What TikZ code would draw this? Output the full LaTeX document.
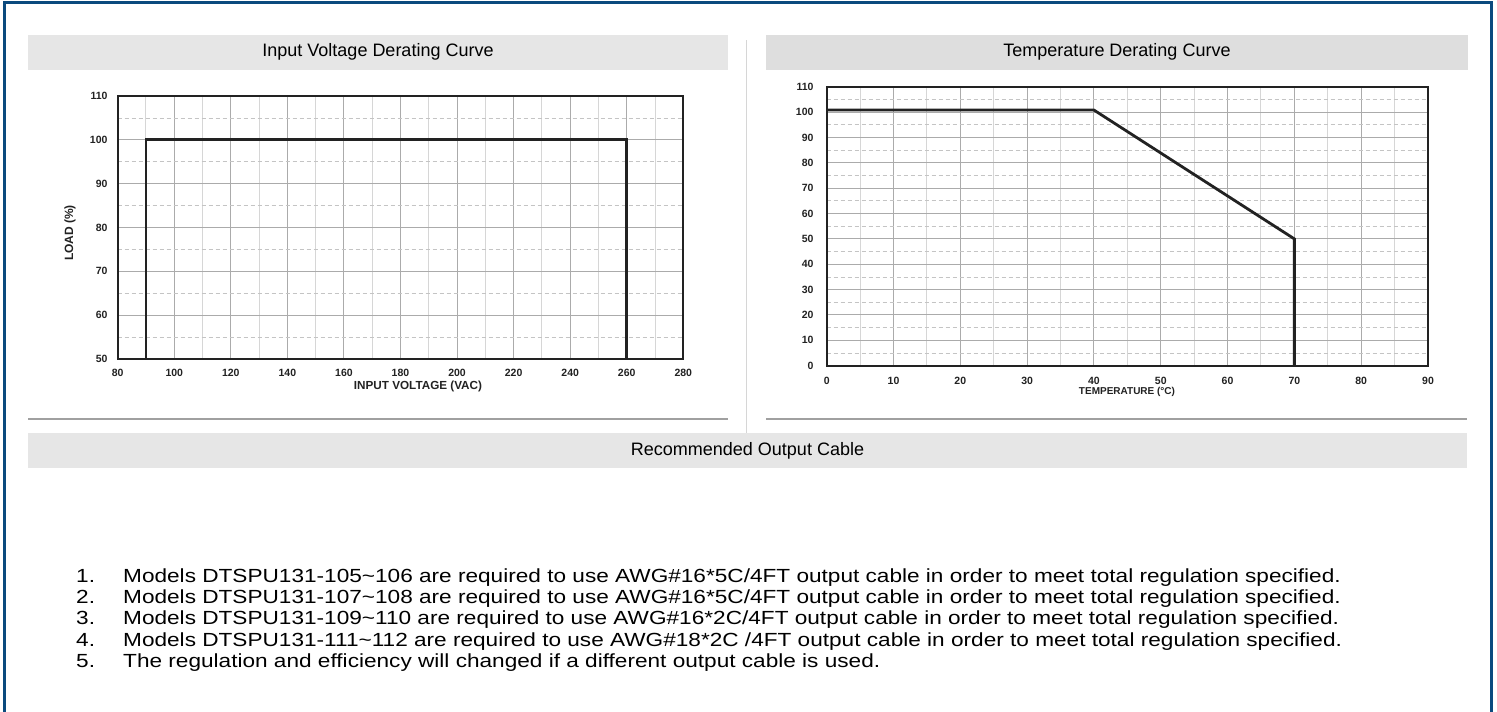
\documentclass[tikz,border=0pt]{standalone}
\usepackage{fontspec}
\setmainfont{Liberation Sans}
\newfontfamily\listfont[FakeStretch=1.19]{Liberation Sans}
\definecolor{frameblue}{HTML}{0B4A7E}
\definecolor{barA}{HTML}{E6E6E6}
\definecolor{barB}{HTML}{DEDEDE}
\definecolor{majgrid}{HTML}{ABABAB}
\definecolor{mingrid}{HTML}{D6D6D6}
\definecolor{dashgrid}{HTML}{C4C4C4}
\definecolor{curve}{HTML}{222222}
\definecolor{sepline}{HTML}{A0A0A0}
\tikzset{
  hdr/.style={fill=#1, draw=none, inner sep=0pt, font=\fontsize{18}{20}\selectfont, text=black},
  majline/.style={draw=majgrid, line width=1pt},
  minline/.style={draw=mingrid, line width=1pt},
  dashline/.style={draw=dashgrid, line width=0.8pt, dash pattern=on 4pt off 3pt},
  plotframe/.style={draw=curve, line width=2pt},
  curveline/.style={draw=curve, line width=2.8pt, line join=miter},
  ticklab/.style={font=\fontsize{10.5}{12}\bfseries\selectfont, inner sep=0pt, text=curve},
  axtitle/.style={font=\fontsize{10}{12}\bfseries\selectfont, inner sep=0pt, text=curve},
  listtxt/.style={font=\listfont\fontsize{19}{22}\selectfont, inner sep=0pt, anchor=base west, text=black},
}
\begin{document}
\begin{tikzpicture}[x=1pt,y=-1pt]
\useasboundingbox (0,0) rectangle (1497,712);
\fill[white] (0,0) rectangle (1497,712);
% outer frame
\draw[frameblue, line width=3pt] (4.5,712) -- (4.5,2.5) -- (1491.5,2.5) -- (1491.5,712);
% header bars
\node[hdr=barA, minimum width=700pt, minimum height=35pt] (h1) at (378,52) {Input Voltage Derating Curve};
\node[hdr=barB, minimum width=702pt, minimum height=35pt] (h2) at (1117,52) {Temperature Derating Curve};
\node[hdr=barA, minimum width=1439pt, minimum height=35pt] (h3) at (747.5,450.5) {Recommended Output Cable};
% separators
\coordinate (s1a) at (28,419); \coordinate (s1b) at (728,419);
\coordinate (s2a) at (766,419); \coordinate (s2b) at (1467,419);
\coordinate (va) at (746,40); \coordinate (vb) at (746,433);
\draw[sepline, line width=1.5pt] (s1a) -- (s1b);
\draw[sepline, line width=1.5pt] (s2a) -- (s2b);
\draw[draw=mingrid, line width=1pt] (va) -- (vb);

% ---------- left chart ----------
\begin{scope}[x=2.828pt, y=4.383pt, shift={(-108.54pt,-578.15pt)}]
  \foreach \v in {90,110,...,270} \draw[minline] (\v,50) -- (\v,110);
  \foreach \v in {100,120,...,260} \draw[majline] (\v,50) -- (\v,110);
  \foreach \w in {55,65,...,105} \draw[dashline] (80,\w) -- (280,\w);
  \foreach \w in {60,70,...,100} \draw[majline] (80,\w) -- (280,\w);
  \draw[plotframe] (80,50) rectangle (280,110);
  \coordinate (L0) at (90,50); \coordinate (L1) at (90,100);
  \coordinate (L2) at (260,100); \coordinate (L3) at (260,50);
  \draw[curveline] (L0) -- (L1) -- (L2) -- (L3);
  \foreach \v in {80,100,...,280} \node[ticklab] (lx\v) at ([yshift=-14pt]\v,50) {\v};
  \foreach \w in {50,60,...,110} \node[ticklab, anchor=east] (ly\w) at ([xshift=-10pt]80,\w) {\w};
\end{scope}
\node[axtitle, font=\fontsize{11.7}{13}\bfseries\selectfont] (lxt) at (418,386) {INPUT VOLTAGE (VAC)};
\node[axtitle, font=\fontsize{12}{13}\bfseries\selectfont, rotate=90] (lyt) at (70,233) {LOAD (\%)};

% ---------- right chart ----------
\begin{scope}[x=6.681pt, y=2.536pt, shift={(826.7pt,-365.7pt)}]
  \foreach \v in {5,15,...,85} \draw[minline] (\v,0) -- (\v,110);
  \foreach \v in {10,20,...,80} \draw[majline] (\v,0) -- (\v,110);
  \foreach \w in {5,15,...,105} \draw[dashline] (0,\w) -- (90,\w);
  \foreach \w in {10,20,...,100} \draw[majline] (0,\w) -- (90,\w);
  \draw[plotframe] (0,0) rectangle (90,110);
  \coordinate (R0) at (0,100.8); \coordinate (R1) at (40,100.8);
  \coordinate (R2) at (70,50); \coordinate (R3) at (70,0);
  \draw[curveline] (R0) -- (R1) -- (R2) -- (R3);
  \foreach \v in {0,10,...,90} \node[ticklab] (rx\v) at ([yshift=-15pt]\v,0) {\v};
  \foreach \w in {0,10,...,110} \node[ticklab, anchor=east] (ry\w) at ([xshift=-13pt]0,\w) {\w};
\end{scope}
\node[axtitle] (rxt) at (1127,392) {TEMPERATURE (°C)};

% ---------- list ----------
\foreach \i/\yy/\t in {
 1/582.5/{Models DTSPU131-105\textasciitilde106 are required to use AWG\#16*5C/4FT output cable in order to meet total regulation specified.},
 2/603.5/{Models DTSPU131-107\textasciitilde108 are required to use AWG\#16*5C/4FT output cable in order to meet total regulation specified.},
 3/624.8/{Models DTSPU131-109\textasciitilde110 are required to use AWG\#16*2C/4FT output cable in order to meet total regulation specified.},
 4/646/{Models DTSPU131-111\textasciitilde112 are required to use AWG\#18*2C /4FT output cable in order to meet total regulation specified.},
 5/667.3/{The regulation and efficiency will changed if a different output cable is used.}}
{
  \node[listtxt] (n\i) at (76,\yy) {\i.};
  \node[listtxt] (t\i) at (123,\yy) {\t};
}
\end{tikzpicture}
\end{document}
